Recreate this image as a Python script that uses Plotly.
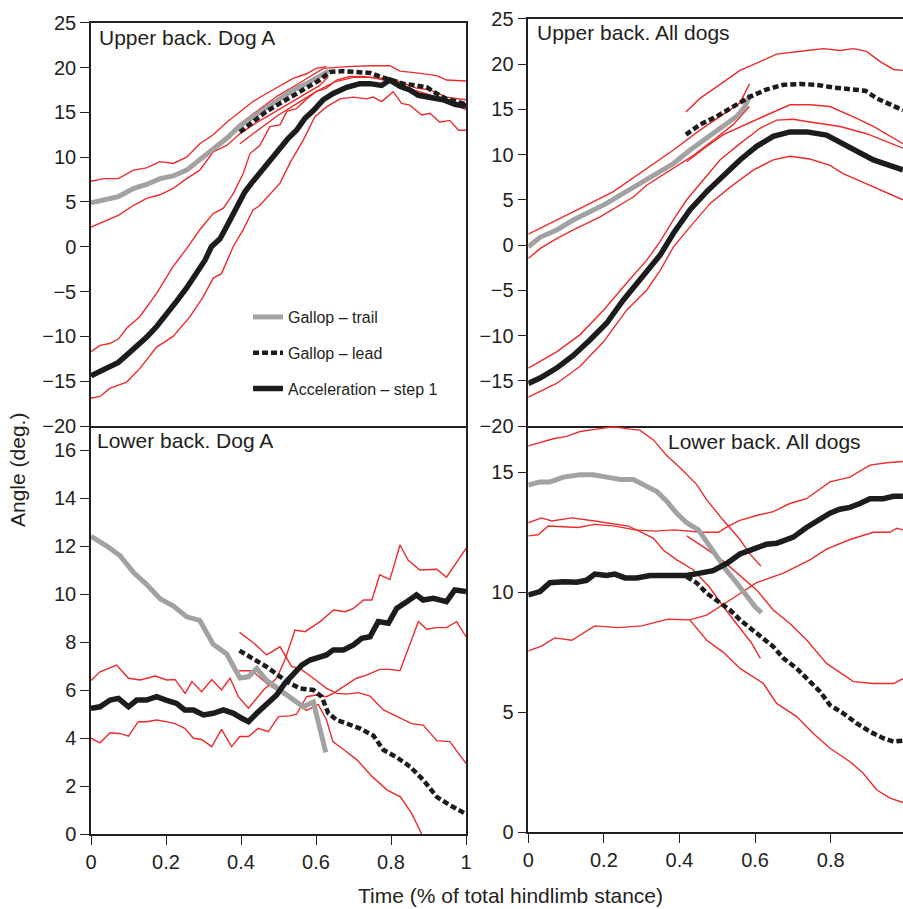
import plotly.graph_objects as go

# ---------------- Upper back, Dog A ----------------
ul_trail_x = [0, 0.073, 0.113, 0.148, 0.184, 0.219, 0.255, 0.29, 0.326, 0.362, 0.397, 0.432, 0.468, 0.504, 0.539, 0.575, 0.61, 0.633]
ul_trail_y = [4.9, 5.6, 6.5, 6.95, 7.6, 7.9, 8.55, 9.7, 11.0, 12.1, 13.5, 14.5, 15.6, 16.5, 17.5, 18.2, 19.0, 19.6]
ul_trail_hi_x = [0, 0.033, 0.073, 0.113, 0.148, 0.184, 0.219, 0.255, 0.29, 0.326, 0.362, 0.397, 0.432, 0.468, 0.504, 0.539, 0.575, 0.6, 0.628]
ul_trail_hi_y = [7.3, 7.6, 7.6, 8.55, 8.8, 9.5, 9.3, 10.0, 11.5, 12.5, 13.9, 15.1, 16.2, 17.1, 18.0, 18.8, 19.3, 19.9, 20.1]
ul_trail_lo_x = [0, 0.033, 0.073, 0.113, 0.148, 0.184, 0.219, 0.255, 0.29, 0.326, 0.362, 0.397, 0.432, 0.468, 0.504, 0.539, 0.575, 0.61, 0.633]
ul_trail_lo_y = [2.2, 2.8, 3.5, 4.6, 5.4, 5.8, 6.5, 7.6, 8.55, 10.6, 11.3, 12.6, 13.6, 14.5, 15.4, 16.2, 17.1, 18.0, 19.0]

ul_lead_x = [0.397, 0.432, 0.468, 0.504, 0.539, 0.575, 0.61, 0.637, 0.672, 0.708, 0.744, 0.77, 0.797, 0.832, 0.868, 0.895, 0.921, 0.948, 0.975, 1.0]
ul_lead_y = [12.8, 13.9, 15.1, 16.0, 16.9, 17.8, 18.6, 19.5, 19.6, 19.5, 19.4, 19.0, 18.6, 18.2, 18.0, 17.8, 17.1, 16.5, 16.2, 15.9]
ul_lead_hi_x = [0.4, 0.45, 0.5, 0.557, 0.62, 0.682, 0.744, 0.797, 0.824, 0.868, 0.922, 0.948, 1.0]
ul_lead_hi_y = [13.8, 15.4, 16.9, 18.3, 19.9, 20.1, 20.2, 20.2, 19.6, 19.4, 19.1, 18.6, 18.5]
ul_lead_lo_x = [0.397, 0.45, 0.5, 0.55, 0.6, 0.65, 0.7, 0.75, 0.8, 0.85, 0.9, 0.95, 1.0]
ul_lead_lo_y = [11.5, 13.2, 14.7, 16.0, 17.3, 18.4, 18.9, 18.9, 18.4, 17.6, 17.0, 16.1, 15.3]

ul_acc_x = [0, 0.024, 0.05, 0.073, 0.095, 0.121, 0.148, 0.175, 0.201, 0.228, 0.255, 0.281, 0.304, 0.321, 0.344, 0.366, 0.388, 0.41, 0.428, 0.45, 0.468, 0.49, 0.508, 0.526, 0.548, 0.57, 0.593, 0.619, 0.646, 0.682, 0.717, 0.744, 0.775, 0.797, 0.824, 0.85, 0.873, 0.904, 0.939, 0.97, 1.0]
ul_acc_y = [-14.4, -13.9, -13.4, -12.9, -12.1, -11.2, -10.1, -8.9, -7.6, -6.1, -4.6, -3.0, -1.5, 0.0, 0.9, 2.6, 4.3, 6.1, 7.1, 8.2, 9.3, 10.2, 11.2, 12.1, 13.0, 14.3, 15.2, 16.4, 17.1, 17.8, 18.2, 18.2, 18.0, 18.6, 17.9, 17.5, 16.9, 16.7, 16.4, 15.9, 15.7]
ul_acc_hi_x = [0, 0.024, 0.05, 0.073, 0.095, 0.13, 0.175, 0.219, 0.255, 0.29, 0.326, 0.353, 0.379, 0.406, 0.424, 0.45, 0.477, 0.504, 0.522, 0.548, 0.575, 0.6, 0.628, 0.655, 0.69, 0.726, 0.762, 0.797, 0.83, 0.868, 0.904, 0.948, 1.0]
ul_acc_hi_y = [-11.7, -11.0, -10.8, -10.3, -9.1, -7.8, -5.2, -2.2, -0.2, 1.9, 3.7, 4.3, 5.9, 8.2, 10.4, 11.3, 13.4, 13.6, 15.1, 15.4, 16.5, 17.3, 17.7, 18.6, 19.0, 19.0, 18.8, 18.8, 18.3, 17.7, 17.5, 16.7, 16.4]
ul_acc_lo_x = [0, 0.024, 0.05, 0.095, 0.13, 0.175, 0.219, 0.264, 0.299, 0.326, 0.348, 0.379, 0.406, 0.432, 0.45, 0.477, 0.504, 0.53, 0.566, 0.597, 0.628, 0.664, 0.7, 0.735, 0.753, 0.775, 0.806, 0.828, 0.85, 0.882, 0.904, 0.93, 0.957, 0.98, 1.0]
ul_acc_lo_y = [-16.9, -16.7, -15.8, -15.1, -13.6, -11.2, -10.0, -7.8, -5.6, -3.5, -3.0, 0.0, 1.9, 4.1, 4.6, 5.9, 7.1, 9.3, 11.9, 14.5, 15.6, 16.5, 16.7, 16.5, 16.7, 16.2, 17.3, 16.0, 15.8, 14.7, 14.9, 13.9, 14.1, 13.0, 13.0]

# ---------------- Upper back, All dogs ----------------
ur_trail_x = [0, 0.031, 0.075, 0.119, 0.163, 0.207, 0.251, 0.295, 0.34, 0.384, 0.428, 0.472, 0.516, 0.551, 0.573, 0.587]
ur_trail_y = [-0.2, 0.85, 1.66, 2.76, 3.68, 4.6, 5.7, 6.8, 7.9, 9.0, 10.5, 11.8, 13.1, 14.2, 15.3, 16.6]
ur_trail_hi_x = [0, 0.075, 0.137, 0.225, 0.295, 0.384, 0.454, 0.516, 0.56, 0.585]
ur_trail_hi_y = [1.2, 2.8, 4.05, 5.9, 7.9, 10.5, 12.7, 14.4, 15.7, 17.8]
ur_trail_lo_x = [0, 0.031, 0.075, 0.119, 0.19, 0.278, 0.313, 0.384, 0.437, 0.49, 0.542, 0.585]
ur_trail_lo_y = [-1.5, -0.4, 0.7, 1.66, 3.1, 5.3, 6.6, 8.5, 9.9, 11.6, 13.3, 15.3]

ur_lead_x = [0.417, 0.454, 0.498, 0.542, 0.587, 0.631, 0.675, 0.719, 0.763, 0.807, 0.851, 0.891, 0.922, 0.957, 0.991]
ur_lead_y = [12.2, 13.3, 14.2, 15.3, 16.4, 17.2, 17.7, 17.8, 17.7, 17.4, 17.2, 17.05, 16.2, 15.5, 14.9]
ur_lead_hi_x = [0.417, 0.454, 0.516, 0.56, 0.604, 0.657, 0.737, 0.781, 0.825, 0.86, 0.895, 0.93, 0.966, 0.991]
ur_lead_hi_y = [14.7, 16.2, 18.0, 19.3, 20.1, 21.1, 21.5, 21.7, 21.5, 21.7, 21.4, 20.3, 19.4, 19.3]
ur_lead_lo_x = [0.419, 0.472, 0.516, 0.577, 0.622, 0.692, 0.745, 0.798, 0.869, 0.913, 0.991]
ur_lead_lo_y = [9.2, 10.9, 12.2, 13.3, 14.2, 15.5, 15.5, 15.3, 14.0, 13.1, 11.2]

ur_acc_x = [0, 0.031, 0.075, 0.119, 0.163, 0.207, 0.251, 0.295, 0.349, 0.384, 0.428, 0.472, 0.516, 0.56, 0.604, 0.648, 0.692, 0.737, 0.789, 0.842, 0.913, 0.991]
ur_acc_y = [-15.3, -14.7, -13.6, -12.2, -10.5, -8.65, -6.1, -3.9, -1.1, 1.3, 3.9, 5.9, 7.7, 9.4, 10.9, 12.0, 12.5, 12.5, 12.15, 10.9, 9.4, 8.3]
ur_acc_hi_x = [0, 0.075, 0.137, 0.199, 0.26, 0.313, 0.349, 0.384, 0.419, 0.463, 0.507, 0.56, 0.613, 0.657, 0.701, 0.745, 0.825, 0.895, 0.991]
ur_acc_hi_y = [-13.6, -11.8, -9.9, -7.2, -4.2, -1.7, 0.4, 2.8, 5.0, 7.2, 9.4, 11.2, 12.9, 13.8, 13.9, 13.6, 13.1, 12.3, 10.7]
ur_acc_lo_x = [0, 0.075, 0.137, 0.199, 0.26, 0.313, 0.349, 0.384, 0.428, 0.481, 0.534, 0.596, 0.648, 0.692, 0.745, 0.798, 0.833, 0.913, 0.991]
ur_acc_lo_y = [-16.8, -15.3, -13.4, -10.7, -7.2, -5.0, -2.8, -0.2, 2.0, 4.6, 6.4, 8.3, 9.4, 9.8, 9.5, 8.8, 7.9, 6.4, 5.0]

# ---------------- Lower back, Dog A ----------------
ll_trail_x = [0, 0.042, 0.077, 0.113, 0.148, 0.184, 0.22, 0.255, 0.29, 0.326, 0.362, 0.397, 0.42, 0.442, 0.468, 0.504, 0.54, 0.566, 0.593, 0.61, 0.626]
ll_trail_y = [12.4, 12.0, 11.6, 10.9, 10.4, 9.8, 9.5, 9.05, 8.9, 7.9, 7.5, 6.5, 6.55, 6.9, 6.4, 6.0, 5.6, 5.3, 5.5, 4.5, 3.4]

ll_lead_x = [0.396, 0.433, 0.468, 0.504, 0.53, 0.557, 0.593, 0.615, 0.633, 0.655, 0.682, 0.717, 0.753, 0.78, 0.815, 0.851, 0.886, 0.922, 0.957, 0.997]
ll_lead_y = [7.64, 7.3, 6.97, 6.56, 6.28, 6.07, 6.0, 5.72, 5.03, 4.75, 4.6, 4.4, 4.1, 3.5, 3.2, 2.8, 2.25, 1.55, 1.2, 0.86]
ll_lead_hi_x = [0.396, 0.433, 0.468, 0.504, 0.535, 0.557, 0.593, 0.628, 0.655, 0.682, 0.713, 0.744, 0.78, 0.815, 0.855, 0.886, 0.922, 0.957, 1.0]
ll_lead_hi_y = [8.4, 7.97, 7.46, 7.8, 6.97, 6.9, 6.49, 6.07, 5.86, 5.83, 5.89, 5.75, 5.17, 4.89, 4.6, 4.54, 3.89, 3.85, 2.94]
ll_lead_lo_x = [0.395, 0.43, 0.47, 0.51, 0.55, 0.575, 0.606, 0.628, 0.645, 0.675, 0.71, 0.75, 0.79, 0.825, 0.855, 0.882]
ll_lead_lo_y = [6.8, 6.8, 6.25, 5.85, 5.45, 5.15, 5.4, 4.75, 3.85, 3.5, 3.08, 2.39, 1.83, 1.55, 0.86, 0.0]

ll_acc_x = [0, 0.024, 0.051, 0.073, 0.1, 0.122, 0.148, 0.175, 0.2, 0.228, 0.25, 0.273, 0.3, 0.326, 0.353, 0.38, 0.402, 0.42, 0.442, 0.468, 0.495, 0.517, 0.54, 0.562, 0.584, 0.606, 0.628, 0.646, 0.673, 0.7, 0.722, 0.744, 0.766, 0.793, 0.815, 0.842, 0.868, 0.886, 0.913, 0.948, 0.97, 1.0]
ll_acc_y = [5.24, 5.3, 5.58, 5.65, 5.3, 5.58, 5.58, 5.72, 5.58, 5.44, 5.17, 5.17, 4.96, 5.03, 5.17, 5.03, 4.82, 4.68, 5.03, 5.38, 5.79, 6.28, 6.69, 7.04, 7.25, 7.36, 7.46, 7.67, 7.67, 7.88, 8.15, 8.22, 8.85, 8.78, 9.4, 9.68, 9.96, 9.75, 9.82, 9.68, 10.17, 10.1]
ll_acc_hi_x = [0, 0.024, 0.068, 0.1, 0.131, 0.171, 0.202, 0.224, 0.251, 0.269, 0.295, 0.322, 0.348, 0.371, 0.393, 0.42, 0.46, 0.495, 0.517, 0.544, 0.571, 0.611, 0.647, 0.678, 0.7, 0.727, 0.749, 0.77, 0.797, 0.824, 0.846, 0.877, 0.922, 0.948, 1.0]
ll_acc_hi_y = [6.4, 6.76, 7.04, 6.49, 6.42, 6.58, 6.42, 6.44, 5.86, 6.35, 5.93, 6.44, 6.0, 6.49, 5.72, 5.24, 6.0, 6.49, 7.25, 8.5, 8.43, 8.85, 9.33, 9.26, 9.4, 9.75, 9.75, 10.8, 10.6, 12.04, 11.4, 11.0, 11.03, 10.7, 11.9]
ll_acc_lo_x = [0, 0.024, 0.051, 0.077, 0.1, 0.126, 0.148, 0.175, 0.2, 0.224, 0.25, 0.273, 0.295, 0.322, 0.348, 0.375, 0.397, 0.42, 0.446, 0.473, 0.5, 0.53, 0.548, 0.575, 0.6, 0.628, 0.646, 0.673, 0.708, 0.735, 0.77, 0.797, 0.824, 0.873, 0.895, 0.922, 0.948, 0.975, 1.0]
ll_acc_lo_y = [3.99, 3.8, 4.22, 4.19, 4.08, 4.68, 4.68, 4.75, 4.68, 4.6, 4.4, 3.99, 3.94, 3.64, 4.36, 3.64, 4.06, 4.06, 4.4, 4.26, 4.89, 4.92, 4.99, 5.72, 5.79, 5.72, 5.86, 6.14, 6.49, 6.62, 6.86, 6.86, 6.8, 8.85, 8.53, 8.6, 8.6, 8.85, 8.22]

# ---------------- Lower back, All dogs ----------------
lr_trail_x = [0, 0.031, 0.057, 0.093, 0.137, 0.172, 0.207, 0.243, 0.278, 0.313, 0.34, 0.366, 0.392, 0.419, 0.45, 0.472, 0.498, 0.525, 0.551, 0.578, 0.6, 0.617]
lr_trail_y = [14.47, 14.6, 14.6, 14.8, 14.9, 14.9, 14.8, 14.7, 14.7, 14.4, 14.2, 13.8, 13.3, 12.9, 12.6, 12.1, 11.5, 10.9, 10.4, 9.8, 9.4, 9.15]
lr_trail_hi_x = [0, 0.031, 0.066, 0.101, 0.137, 0.181, 0.225, 0.269, 0.295, 0.331, 0.366, 0.401, 0.445, 0.472, 0.516, 0.56, 0.586, 0.615]
lr_trail_hi_y = [16.1, 16.24, 16.4, 16.5, 16.7, 16.8, 16.9, 16.8, 16.76, 16.35, 15.7, 15.2, 14.5, 13.85, 13.0, 12.2, 11.6, 11.1]
lr_trail_lo_x = [0, 0.035, 0.062, 0.115, 0.176, 0.265, 0.3, 0.331, 0.357, 0.393, 0.437, 0.48, 0.516, 0.56, 0.59, 0.614]
lr_trail_lo_y = [12.9, 13.1, 12.97, 13.1, 12.97, 12.76, 12.5, 12.25, 11.76, 11.35, 10.93, 10.2, 9.4, 8.5, 7.9, 7.25]

lr_lead_x = [0.419, 0.445, 0.472, 0.507, 0.534, 0.56, 0.595, 0.622, 0.648, 0.675, 0.71, 0.745, 0.772, 0.798, 0.833, 0.869, 0.904, 0.939, 0.966, 0.991]
lr_lead_y = [10.65, 10.4, 9.96, 9.54, 9.26, 8.85, 8.43, 8.08, 7.74, 7.25, 6.83, 6.28, 5.86, 5.3, 4.96, 4.54, 4.19, 3.92, 3.78, 3.82]
lr_lead_hi_x = [0.419, 0.472, 0.516, 0.56, 0.604, 0.648, 0.692, 0.737, 0.789, 0.86, 0.913, 0.966, 0.991]
lr_lead_hi_y = [12.35, 11.8, 11.3, 10.7, 10.1, 9.26, 8.7, 8.0, 7.04, 6.28, 6.2, 6.2, 6.4]
lr_lead_lo_x = [0.427, 0.472, 0.516, 0.56, 0.622, 0.657, 0.71, 0.754, 0.798, 0.851, 0.886, 0.922, 0.957, 0.991]
lr_lead_lo_y = [8.85, 8.0, 7.5, 6.83, 6.2, 5.37, 4.82, 4.12, 3.5, 2.94, 2.46, 1.76, 1.42, 1.24]

lr_acc_x = [0, 0.031, 0.057, 0.093, 0.128, 0.154, 0.176, 0.207, 0.229, 0.256, 0.287, 0.322, 0.366, 0.419, 0.454, 0.489, 0.525, 0.56, 0.595, 0.63, 0.657, 0.701, 0.736, 0.772, 0.798, 0.824, 0.851, 0.877, 0.904, 0.939, 0.966, 0.991]
lr_acc_y = [9.89, 10.03, 10.4, 10.44, 10.42, 10.5, 10.76, 10.7, 10.76, 10.6, 10.6, 10.7, 10.7, 10.7, 10.8, 10.9, 11.2, 11.6, 11.8, 12.0, 12.04, 12.3, 12.7, 13.04, 13.3, 13.46, 13.54, 13.7, 13.9, 13.9, 14.0, 14.0]
lr_acc_hi_x = [0, 0.026, 0.053, 0.132, 0.176, 0.23, 0.282, 0.335, 0.388, 0.459, 0.503, 0.529, 0.56, 0.604, 0.648, 0.692, 0.736, 0.798, 0.851, 0.904, 0.948, 0.991]
lr_acc_hi_y = [12.35, 12.4, 12.76, 12.7, 12.83, 12.76, 12.6, 12.55, 12.6, 12.5, 12.5, 12.76, 13.0, 13.2, 13.36, 13.7, 13.9, 14.6, 14.8, 15.3, 15.4, 15.45]
lr_acc_lo_x = [0, 0.035, 0.07, 0.115, 0.176, 0.238, 0.3, 0.37, 0.427, 0.472, 0.534, 0.604, 0.675, 0.745, 0.789, 0.851, 0.913, 0.957, 0.975, 0.991]
lr_acc_lo_y = [7.56, 7.76, 8.1, 8.0, 8.6, 8.53, 8.6, 8.88, 8.85, 9.05, 9.68, 10.4, 10.8, 11.35, 11.8, 12.2, 12.5, 12.5, 12.67, 12.6]

# tick values / labels
upper_ticks = [-20, -15, -10, -5, 0, 5, 10, 15, 20, 25]
upper_ticklabels = ["\u221220", "\u221215", "\u221210", "\u22125", "0", "5", "10", "15", "20", "25"]
ll_ticks = [0, 2, 4, 6, 8, 10, 12, 14, 16]
lr_ticks = [0, 5, 10, 15]
x_ticks = [0, 0.2, 0.4, 0.6, 0.8, 1]
x_ticklabels = ["0", "0.2", "0.4", "0.6", "0.8", "1"]

RED = "#ec2b2b"
GRAY = "#a2a2a2"
BLACK = "#1c1c1c"

fig = go.Figure()

def red(x, y, ax):
    fig.add_trace(go.Scatter(x=x, y=y, mode="lines", line=dict(color=RED, width=1.4),
                             xaxis="x" + ax, yaxis="y" + ax, showlegend=False, hoverinfo="skip"))

def trail(x, y, ax, legend=False):
    fig.add_trace(go.Scatter(x=x, y=y, mode="lines", line=dict(color=GRAY, width=5),
                             xaxis="x" + ax, yaxis="y" + ax, name="Gallop – trail",
                             showlegend=legend, legendgroup="a"))

def lead(x, y, ax, legend=False):
    fig.add_trace(go.Scatter(x=x, y=y, mode="lines", line=dict(color=BLACK, width=4.5, dash="6px,3px"),
                             xaxis="x" + ax, yaxis="y" + ax, name="Gallop – lead",
                             showlegend=legend, legendgroup="b"))

def acc(x, y, ax, legend=False):
    fig.add_trace(go.Scatter(x=x, y=y, mode="lines", line=dict(color=BLACK, width=5.5),
                             xaxis="x" + ax, yaxis="y" + ax, name="Acceleration – step 1",
                             showlegend=legend, legendgroup="c"))

# Upper-left
red(ul_trail_hi_x, ul_trail_hi_y, ""); red(ul_trail_lo_x, ul_trail_lo_y, "")
red(ul_lead_hi_x, ul_lead_hi_y, ""); red(ul_lead_lo_x, ul_lead_lo_y, "")
red(ul_acc_hi_x, ul_acc_hi_y, ""); red(ul_acc_lo_x, ul_acc_lo_y, "")
trail(ul_trail_x, ul_trail_y, "", True)
lead(ul_lead_x, ul_lead_y, "", True)
acc(ul_acc_x, ul_acc_y, "", True)

# Upper-right
red(ur_trail_hi_x, ur_trail_hi_y, "2"); red(ur_trail_lo_x, ur_trail_lo_y, "2")
red(ur_lead_hi_x, ur_lead_hi_y, "2"); red(ur_lead_lo_x, ur_lead_lo_y, "2")
red(ur_acc_hi_x, ur_acc_hi_y, "2"); red(ur_acc_lo_x, ur_acc_lo_y, "2")
trail(ur_trail_x, ur_trail_y, "2")
lead(ur_lead_x, ur_lead_y, "2")
acc(ur_acc_x, ur_acc_y, "2")

# Lower-left
red(ll_lead_hi_x, ll_lead_hi_y, "3"); red(ll_lead_lo_x, ll_lead_lo_y, "3")
red(ll_acc_hi_x, ll_acc_hi_y, "3"); red(ll_acc_lo_x, ll_acc_lo_y, "3")
trail(ll_trail_x, ll_trail_y, "3")
lead(ll_lead_x, ll_lead_y, "3")
acc(ll_acc_x, ll_acc_y, "3")

# Lower-right
red(lr_trail_hi_x, lr_trail_hi_y, "4"); red(lr_trail_lo_x, lr_trail_lo_y, "4")
red(lr_lead_hi_x, lr_lead_hi_y, "4"); red(lr_lead_lo_x, lr_lead_lo_y, "4")
red(lr_acc_hi_x, lr_acc_hi_y, "4"); red(lr_acc_lo_x, lr_acc_lo_y, "4")
trail(lr_trail_x, lr_trail_y, "4")
lead(lr_lead_x, lr_lead_y, "4")
acc(lr_acc_x, lr_acc_y, "4")

W, H = 903, 909
def px(v): return v / W
def py(v): return 1 - v / H

FONT = "Liberation Sans, Arial, Helvetica, sans-serif"
TICKFONT = dict(family=FONT, size=20, color="#231f20")
LINEC = "#231f20"

axis_common = dict(showgrid=False, zeroline=False, showline=True, linecolor=LINEC, linewidth=1.5,
                   automargin=False)
ytick = dict(ticks="outside", ticklen=9, tickwidth=1.3, tickcolor=LINEC, tickfont=TICKFONT)

fig.update_layout(
    template=None,
    width=W, height=H,
    margin=dict(l=0, r=0, t=0, b=0, pad=0, autoexpand=False),
    paper_bgcolor="white", plot_bgcolor="white",
    font=dict(family=FONT, color="#231f20"),
    showlegend=True,
    legend=dict(x=px(248), y=py(300), xanchor="left", yanchor="top",
                font=dict(family=FONT, size=16, color="#231f20"),
                bgcolor="rgba(0,0,0,0)", traceorder="grouped", tracegroupgap=12,
                itemwidth=30),
    xaxis=dict(domain=[px(91), px(466)], range=[0, 1], anchor="y", mirror=True,
               showticklabels=False, ticks="", **axis_common),
    yaxis=dict(domain=[py(426), py(22.7)], range=[-20, 25], anchor="x", mirror=True,
               tickvals=upper_ticks, ticktext=upper_ticklabels, **ytick, **axis_common),
    xaxis2=dict(domain=[px(528.3), 1.0], range=[0, (903 - 528.3) / 378], anchor="y2", mirror=True,
                showticklabels=False, ticks="", **axis_common),
    yaxis2=dict(domain=[py(426), py(18.5)], range=[-20, 25.03], anchor="x2",
                tickvals=upper_ticks, ticktext=upper_ticklabels, **ytick, **axis_common),
    xaxis3=dict(domain=[px(91), px(466)], range=[0, 1], anchor="y3",
                tickvals=x_ticks, ticktext=x_ticklabels, **ytick, **axis_common),
    yaxis3=dict(domain=[py(834), py(426)], range=[0, 17.0], anchor="x3", mirror=True,
                tickvals=ll_ticks, **ytick, **axis_common),
    xaxis4=dict(domain=[px(528.3), 1.0], range=[0, (903 - 528.3) / 378], anchor="y4",
                tickvals=x_ticks, ticktext=x_ticklabels, **ytick, **axis_common),
    yaxis4=dict(domain=[py(832.3), py(426)], range=[0, 16.93], anchor="x4",
                tickvals=lr_ticks, **ytick, **axis_common),
)

ann_font = dict(family=FONT, size=21, color="#231f20")
annotations = [
    dict(text="Upper back. Dog A", x=px(97), y=py(37), xanchor="left", yanchor="middle"),
    dict(text="Upper back. All dogs", x=px(535), y=py(33), xanchor="left", yanchor="middle"),
    dict(text="Lower back. Dog A", x=px(95), y=py(440), xanchor="left", yanchor="middle"),
    dict(text="Lower back. All dogs", x=px(666), y=py(441), xanchor="left", yanchor="middle"),
    dict(text="Time (% of total hindlimb stance)", x=px(510), y=py(895), xanchor="center", yanchor="middle"),
    dict(text="Angle (deg.)", x=px(18), y=py(470), xanchor="center", yanchor="middle", textangle=-90),
]
for a in annotations:
    fig.add_annotation(xref="paper", yref="paper", showarrow=False, font=ann_font, **a)

fig.write_html("out.html",
               config={"displayModeBar": False},
               post_script="document.body.style.margin='0';document.body.style.padding='0';"
                           "document.body.style.overflow='hidden';")
